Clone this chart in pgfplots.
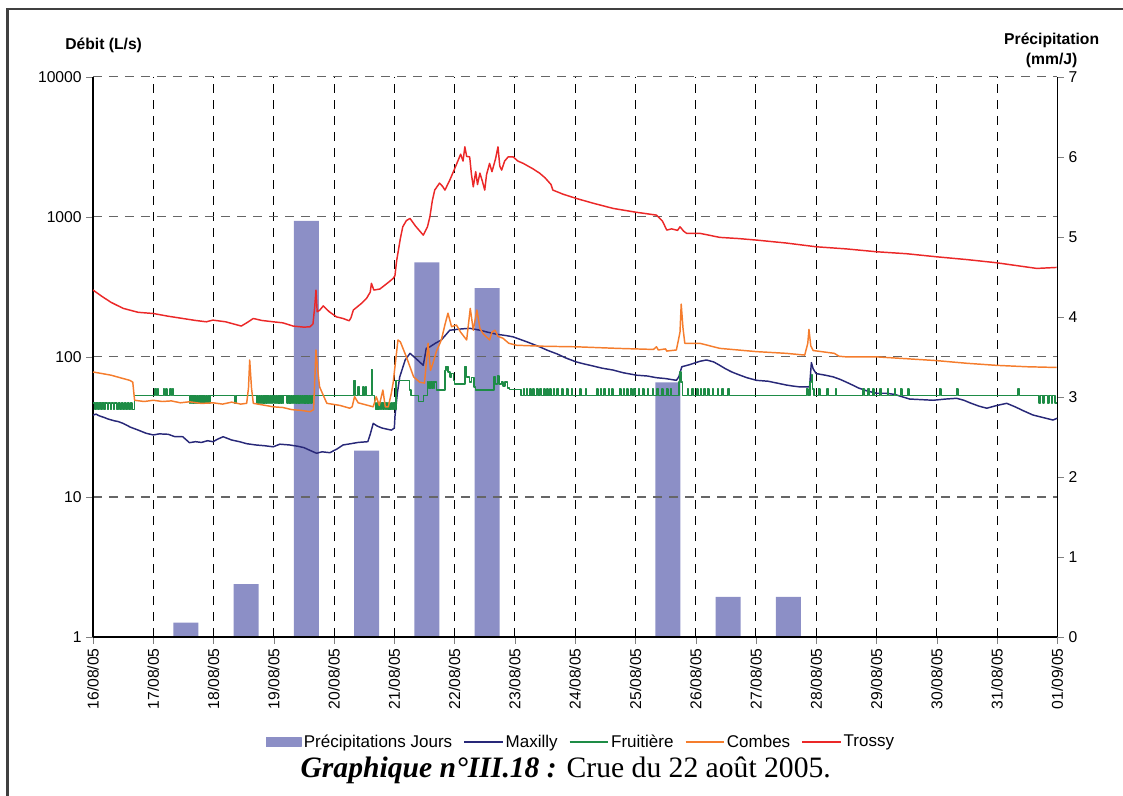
\documentclass[border=0pt]{standalone}
\usepackage{pgfplots}
\pgfplotsset{compat=1.18}
\usepackage{fontspec}
\setmainfont{Liberation Sans}
\newfontfamily\capfont{Liberation Serif}
\definecolor{barc}{RGB}{140,143,198}
\definecolor{maxc}{RGB}{40,40,120}
\definecolor{fruc}{RGB}{30,140,70}
\definecolor{comc}{RGB}{245,125,45}
\definecolor{troc}{RGB}{235,40,40}
\newcommand{\tf}{\fontsize{11.8}{13}\selectfont}
\begin{document}
\begin{tikzpicture}
\useasboundingbox (-69.75bp,-119.25bp) rectangle (772.5bp,477.75bp);
\draw[line width=2.2bp, black!75] (-64bp,-125bp) -- (-64bp,471bp) -- (780bp,471bp);
% ---------- precipitation bars (right axis)
\begin{axis}[
  scale only axis, width=723.2bp, height=420.2bp,
  xmin=0, xmax=16, ymin=0, ymax=7,
  axis y line*=right, axis x line=none,
  ytick={0,1,2,3,4,5,6,7},
  tick align=outside, major tick length=5bp,
  /pgf/number format/assume math mode=true,
  yticklabel style={font=\tf},
  axis line style={line width=1.1bp},
]
\addplot[ybar, bar width=18.75bp, fill=barc, draw=none] coordinates {
(1.54,0.18) (2.54,0.66) (3.54,5.2) (4.54,2.33) (5.54,4.68) (6.54,4.36) (9.54,3.18) (10.54,0.5) (11.54,0.5)};
\end{axis}
% ---------- discharges (left log axis)
\begin{axis}[
  scale only axis, width=723.2bp, height=420.2bp,
  xmin=0, xmax=16, ymode=log, ymin=1, ymax=10000,
  axis y line*=left, axis x line*=bottom,
  axis line style={line width=1.1bp},
  xtick={0,1,...,16},
  xticklabels={16/08/05,17/08/05,18/08/05,19/08/05,20/08/05,21/08/05,22/08/05,23/08/05,24/08/05,25/08/05,26/08/05,27/08/05,28/08/05,29/08/05,30/08/05,31/08/05,01/09/05},
  xticklabel style={rotate=90, anchor=east, font=\tf},
  ytick={1,10,100,1000,10000},
  yticklabels={1,10,100,1000,10000},
  yticklabel style={font=\tf},
  yminorticks=false,
  tick align=outside, major tick length=5bp,
  xmajorgrids, ymajorgrids,
  x grid style={black, dash pattern=on 7bp off 5bp, line width=0.7bp},
  y grid style={black!60, dash pattern=on 7bp off 5bp, line width=0.9bp},
  legend style={at={(0.506,-0.1875)}, anchor=center, draw=none, fill=none,
    font=\fontsize{12.8}{14}\selectfont,
    legend columns=-1, /tikz/every even column/.append style={column sep=7bp},
    /tikz/every odd column/.append style={column sep=0bp},
    nodes={inner xsep=1.5bp}},
  legend image code/.code={\draw[#1] (0bp,0bp) -- (29bp,0bp);},
  every axis plot/.append style={line width=1.1bp, line join=round},
]
\addlegendimage{legend image code/.code={\fill[barc] (0bp,-3.4bp) rectangle (26bp,3.4bp);}}
\addlegendentry{Précipitations Jours}
% Maxilly
\addplot[maxc] coordinates {
(0.00,38.4) (0.05,39) (0.10,38) (0.18,37) (0.25,36) (0.35,35) (0.42,34.5) (0.50,33.5) (0.62,31.5)
(0.75,30) (0.88,28.5) (1.00,27.7) (1.10,28.2) (1.25,28) (1.35,27) (1.49,26.9)
(1.60,24.4) (1.70,24.8) (1.80,24.5) (1.90,25.2) (1.99,24.8) (2.08,26) (2.16,26.9) (2.30,25.5) (2.43,24.8) (2.55,24) (2.70,23.5)
(2.85,23.2) (2.99,22.8) (3.10,23.8) (3.26,23.5) (3.40,23) (3.50,22.5) (3.60,21.5) (3.71,20.5) (3.80,21) (3.93,20.7) (4.05,22) (4.15,23.5) (4.28,24) (4.40,24.5)
(4.56,24.8) (4.60,28) (4.65,33.5) (4.72,32) (4.80,31) (4.95,30) (5.00,31) (5.01,37.4) (5.05,55)
(5.09,72) (5.18,95) (5.26,106) (5.35,98) (5.48,87) (5.53,115) (5.59,118) (5.68,125) (5.78,132)
(5.92,155) (6.09,158) (6.25,160) (6.42,155) (6.55,150) (6.70,145) (6.85,142) (6.97,139) (7.20,128) (7.41,118) (7.55,111) (7.70,105)
(7.85,98) (8.02,92) (8.15,89) (8.30,86) (8.45,83) (8.63,80.5) (8.80,77) (9.02,74) (9.20,73) (9.35,71) (9.50,70) (9.68,68) (9.72,72) (9.77,85)
(9.90,88) (10.07,93) (10.18,95) (10.30,92) (10.40,87) (10.50,82) (10.60,78) (10.70,75) (10.85,71) (11.01,68) (11.20,67)
(11.35,65) (11.50,63) (11.60,62) (11.73,61) (11.89,61) (11.91,80) (11.92,91) (11.95,82) (12.00,76) (12.15,74) (12.28,72)
(12.40,69) (12.50,66) (12.60,63) (12.70,60) (12.85,57) (13.00,55) (13.15,55) (13.30,54) (13.42,52) (13.55,50) (13.75,49.5) (13.94,49) (14.15,50) (14.33,50.6) (14.45,49) (14.55,47)
(14.70,44.5) (14.83,43) (15.00,45) (15.16,46.6) (15.30,44) (15.45,41) (15.60,38.4) (15.75,37) (15.93,35.4) (16.00,36.5)};
\addlegendentry{Maxilly}
% Fruitiere
\addplot[fruc, const plot] coordinates {
(0.00,47) (0.03,42) (0.05,47) (0.08,42) (0.10,47) (0.13,42) (0.15,47) (0.18,42) (0.20,47) (0.24,42) (0.26,47)
(0.29,42) (0.31,47) (0.34,42) (0.36,47) (0.40,42) (0.42,47) (0.45,42) (0.47,47) (0.50,42) (0.52,47) (0.55,42) (0.57,47) (0.60,42)
(0.62,47) (0.65,42) (0.69,53)
(1.03,59) (1.05,53) (1.07,59) (1.09,53) (1.17,59) (1.19,53) (1.21,59) (1.23,53) (1.28,59)
(1.30,53) (1.32,59) (1.34,53)
(1.60,47) (1.615,53) (1.63,47) (1.645,53) (1.66,47) (1.675,53) (1.69,47) (1.705,53) (1.72,47) (1.735,53) (1.75,47) (1.765,53) (1.78,47)
(1.795,53) (1.81,47) (1.825,53) (1.84,47) (1.855,53) (1.87,47) (1.885,53) (1.90,47) (1.915,53) (1.93,47) (1.945,53) (2.35,47) (2.37,53)
(2.72,47) (2.735,53) (2.75,47) (2.765,53) (2.78,47) (2.795,53) (2.81,47) (2.825,53) (2.84,47) (2.855,53) (2.87,47) (2.885,53)
(2.90,47) (2.915,53) (2.93,47) (2.945,53) (2.96,47) (2.975,53) (3.00,47) (3.015,53) (3.03,47) (3.045,53) (3.06,47) (3.075,53)
(3.09,47) (3.105,53) (3.12,47) (3.135,53) (3.15,47) (3.165,53) (3.22,47) (3.235,53) (3.25,47) (3.265,53) (3.28,47) (3.295,53)
(3.31,47) (3.325,53) (3.34,47) (3.355,53) (3.37,47) (3.385,53) (3.40,47) (3.415,53) (3.43,47) (3.445,53) (3.46,47) (3.475,53)
(3.49,47) (3.505,53) (3.52,47) (3.535,53) (3.55,47) (3.565,53) (3.58,47) (3.595,53) (3.61,47) (3.63,53)
(4.33,68) (4.36,53) (4.40,61) (4.42,53) (4.48,61) (4.50,53) (4.52,61) (4.54,53) (4.62,81)
(4.64,53) (4.67,47) (4.69,42) (4.71,47) (4.73,42) (4.75,47) (4.77,42) (4.79,47) (4.81,42) (4.83,47) (4.85,42)
(4.87,47) (4.89,42) (4.91,47) (4.93,42) (4.95,47) (4.97,42) (4.99,47) (5.01,42) (5.03,68) (5.25,58) (5.28,53)
(5.40,48) (5.48,53) (5.55,66) (5.565,60) (5.58,66) (5.595,60) (5.61,66) (5.625,60) (5.64,66) (5.655,60) (5.67,66)
(5.70,58) (5.84,80) (5.86,85) (5.89,78) (5.92,72) (5.95,76) (5.98,68) (6.00,64) (6.17,85)
(6.20,72) (6.25,66) (6.28,71) (6.32,61) (6.35,58) (6.65,72) (6.68,64) (6.71,73) (6.74,64)
(6.78,66) (6.80,62) (6.84,66) (6.88,60) (6.91,58.6) (7.10,53)
(7.14,59) (7.16,53) (7.19,59) (7.21,53) (7.25,59) (7.27,53) (7.30,59) (7.32,53) (7.36,59)
(7.38,53) (7.42,59) (7.44,53) (7.48,59) (7.50,53) (7.53,59) (7.55,53) (7.58,59) (7.60,53)
(7.64,59) (7.66,53) (7.70,59) (7.72,53) (7.78,59) (7.80,53) (7.86,59) (7.88,53) (7.94,59)
(7.96,53) (8.08,59) (8.10,53) (8.17,59) (8.19,53) (8.36,59) (8.38,53) (8.42,59) (8.44,53)
(8.48,59) (8.50,53) (8.55,59) (8.57,53) (8.61,59) (8.63,53) (8.74,59) (8.76,53) (8.80,59)
(8.82,53) (8.86,59) (8.88,53) (8.92,59) (8.94,53) (8.98,59) (9.00,53) (9.05,59) (9.07,53)
(9.12,59) (9.14,53) (9.20,59) (9.22,53) (9.28,59) (9.30,53) (9.36,59) (9.38,53) (9.44,59)
(9.46,53) (9.52,59) (9.54,53) (9.58,59) (9.60,53) (9.72,66) (9.74,78) (9.76,66) (9.78,53)
(9.86,59) (9.88,53) (9.94,59) (9.96,53) (10.02,59) (10.04,53) (10.08,59) (10.10,53)
(10.14,59) (10.16,53) (10.20,59) (10.22,53) (10.28,59) (10.30,53) (10.36,59) (10.38,53)
(10.44,59) (10.46,53) (10.54,59) (10.56,53) (11.84,59) (11.86,53) (11.90,66) (11.92,74)
(11.94,59) (11.96,53) (12.04,59) (12.06,53) (12.18,59) (12.20,53) (12.32,59) (12.34,53)
(12.78,59) (12.80,53) (12.86,59) (12.88,53) (12.94,59) (12.96,53) (13.06,59) (13.08,53)
(13.18,59) (13.20,53) (13.30,59) (13.32,53) (13.40,59) (13.42,53) (13.52,59) (13.54,53)
(14.05,59) (14.07,53) (14.33,59) (14.35,53) (15.35,59) (15.37,53) (15.70,47) (15.72,53)
(15.76,47) (15.78,53) (15.84,47) (15.86,53) (15.90,47) (15.92,53) (15.96,47) (16.00,47)};
\addlegendentry{Fruitière}
% Combes
\addplot[comc] coordinates {
(0.00,78) (0.15,76) (0.30,74) (0.45,71) (0.61,68) (0.66,66) (0.69,49) (0.85,48) (1.00,49) (1.15,48) (1.30,48.5) (1.45,47) (1.60,47.8)
(1.80,46.5) (1.99,47) (2.15,46) (2.30,47.5) (2.45,46) (2.55,46.6) (2.58,60) (2.60,95) (2.63,60) (2.66,46.6) (2.80,45.5) (2.99,44)
(3.15,43.5) (3.30,42) (3.45,41.5) (3.60,40.6) (3.66,42) (3.70,112) (3.73,80) (3.76,61) (3.88,46.6) (4.10,45)
(4.26,43) (4.30,44) (4.34,52) (4.40,47) (4.65,44) (4.70,52) (4.75,45) (4.81,58) (4.85,44)
(4.90,44) (4.95,55) (4.98,65) (5.06,132) (5.10,128) (5.20,100) (5.32,72) (5.42,66)
(5.50,65) (5.53,90) (5.56,125) (5.60,80) (5.64,90) (5.70,110) (5.78,132) (5.84,170)
(5.89,205) (5.95,164) (6.03,169) (6.10,150) (6.20,132) (6.26,222) (6.31,155) (6.37,216)
(6.42,160) (6.47,147) (6.58,132) (6.62,150) (6.67,155) (6.72,140) (6.80,136) (6.90,125)
(7.03,121) (7.50,119) (8.02,118) (8.70,115) (9.30,113) (9.35,118) (9.38,112) (9.50,114) (9.52,110) (9.68,112)
(9.74,150) (9.76,238) (9.79,160) (9.82,125) (10.07,125) (10.40,115) (11.01,109) (11.50,106)
(11.81,103) (11.86,125) (11.88,157) (11.91,120) (11.95,111) (12.30,106) (12.38,101) (12.50,100)
(13.00,100) (13.50,97) (14.00,94) (14.50,90) (14.99,87) (15.50,85) (15.99,84)};
\addlegendentry{Combes}
% Trossy
\addplot[troc] coordinates {
(0.00,300) (0.15,270) (0.30,245) (0.50,222) (0.75,208) (1.00,204) (1.25,195) (1.49,188)
(1.70,182) (1.88,178) (1.99,183) (2.20,178) (2.46,166) (2.55,175) (2.66,188) (2.80,182)
(2.99,178) (3.15,175) (3.32,166) (3.50,163) (3.60,164) (3.65,172) (3.68,230) (3.70,300)
(3.72,210) (3.76,215) (3.82,231) (3.92,210) (4.04,193) (4.15,188) (4.25,181) (4.28,190)
(4.32,216) (4.45,240) (4.54,262) (4.60,290) (4.62,335) (4.66,300) (4.76,305) (4.90,340)
(4.98,363) (5.01,380) (5.04,491) (5.10,700) (5.14,849) (5.20,940) (5.26,974) (5.35,860)
(5.48,740) (5.55,850) (5.59,1000) (5.63,1300) (5.67,1552) (5.75,1740) (5.80,1650)
(5.84,1552) (5.92,1828) (6.00,2200) (6.06,2540) (6.10,2800) (6.14,2500) (6.17,3160)
(6.20,2700) (6.25,2680) (6.28,2000) (6.31,1637) (6.35,2100) (6.38,1700) (6.42,2050)
(6.46,1800) (6.50,1552) (6.53,2000) (6.58,2405) (6.62,2100) (6.68,2600) (6.72,3160)
(6.75,2300) (6.78,2155) (6.83,2500) (6.89,2680) (6.97,2680) (7.05,2500) (7.14,2405)
(7.30,2200) (7.41,2050) (7.50,1900) (7.60,1700) (7.63,1552) (7.80,1450) (8.02,1352)
(8.30,1250) (8.63,1148) (9.00,1080) (9.35,1028) (9.45,930) (9.52,804) (9.60,820) (9.70,800)
(9.74,849) (9.80,790) (9.85,762) (10.07,762) (10.40,713) (10.70,700) (11.01,682)
(11.50,650) (12.00,611) (12.50,590) (13.00,563) (13.50,545) (14.00,518) (14.50,495)
(14.99,470) (15.30,450) (15.66,428) (15.85,432) (15.99,435)};
\addlegendentry{Trossy}
\end{axis}
\node[font=\bfseries\fontsize{11.8}{13}\selectfont] at (8bp,443.5bp) {Débit (L/s)};
\node[font=\bfseries\fontsize{11.8}{14.5}\selectfont, align=center] at (719bp,440bp) {Précipitation\\(mm/J)};
\node[font=\capfont\fontsize{22.3}{25}\selectfont] at (354.5bp,-99.75bp) {\textbf{\textit{Graphique n°III.18 :}} Crue du 22 août 2005.};
\end{tikzpicture}
\end{document}
